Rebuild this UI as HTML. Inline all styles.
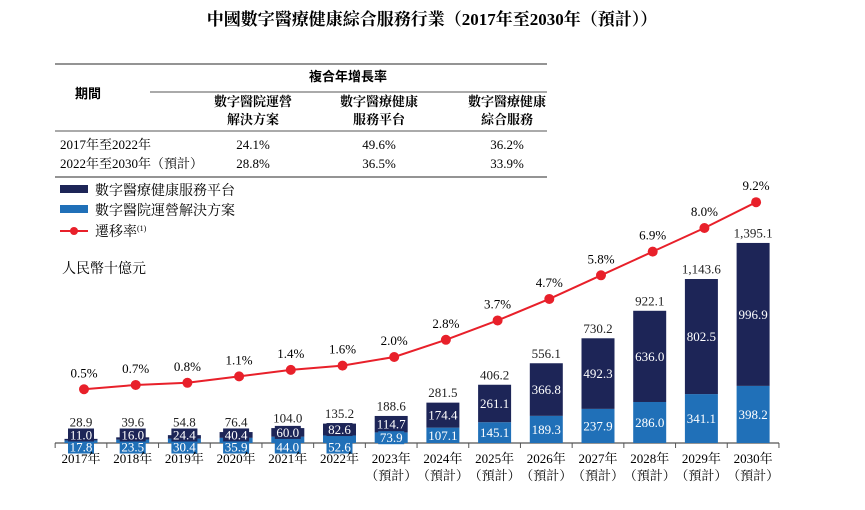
<!DOCTYPE html>
<html><head><meta charset="utf-8">
<style>
body{margin:0;background:#fff;width:865px;height:505px;overflow:hidden;font-family:"Liberation Serif","Noto Serif CJK SC",serif;color:#222}
svg text{font-family:"Liberation Serif","Noto Serif CJK SC",serif}
</style></head><body>
<svg width="865" height="505" viewBox="0 0 865 505">
<text x="432" y="25" text-anchor="middle" font-size="17" font-weight="bold">中國數字醫療健康綜合服務行業（2017年至2030年（預計））</text>
<g font-size="13">
<line x1="55" y1="64" x2="547" y2="64" stroke="#555" stroke-width="1.2"/>
<line x1="150" y1="92" x2="547" y2="92" stroke="#555" stroke-width="1"/>
<line x1="55" y1="131" x2="547" y2="131" stroke="#555" stroke-width="1"/>
<line x1="55" y1="177" x2="547" y2="177" stroke="#555" stroke-width="1.2"/>
<text x="88" y="98" text-anchor="middle" font-weight="bold" style="font-family:'Noto Sans CJK SC',sans-serif">期間</text>
<text x="348" y="81" text-anchor="middle" font-weight="bold" style="font-family:'Noto Sans CJK SC',sans-serif">複合年增長率</text>
<g font-weight="bold" style="font-family:'Noto Sans CJK SC',sans-serif" text-anchor="middle">
<text x="253" y="106">數字醫院運營</text><text x="253" y="124">解決方案</text>
<text x="379" y="106">數字醫療健康</text><text x="379" y="124">服務平台</text>
<text x="507" y="106">數字醫療健康</text><text x="507" y="124">綜合服務</text>
</g>
<text x="60" y="149" font-size="13">2017年至2022年</text>
<text x="60" y="168" font-size="13">2022年至2030年（預計）</text>
<g text-anchor="middle" font-size="13">
<text x="253" y="149">24.1%</text><text x="379" y="149">49.6%</text><text x="507" y="149">36.2%</text>
<text x="253" y="168">28.8%</text><text x="379" y="168">36.5%</text><text x="507" y="168">33.9%</text>
</g></g>
<g font-size="14">
<rect x="60" y="185" width="28" height="8" fill="#1d2557"/>
<text x="95" y="195">數字醫療健康服務平台</text>
<rect x="60" y="205" width="28" height="8" fill="#2070b8"/>
<text x="95" y="215">數字醫院運營解決方案</text>
<line x1="60" y1="231" x2="88" y2="231" stroke="#e8202a" stroke-width="2"/><circle cx="74" cy="231" r="4" fill="#e8202a"/>
<text x="95" y="236">遷移率<tspan font-size="8" dy="-5">(1)</tspan></text>
</g>
<text x="62" y="273" font-size="14">人民幣十億元</text>
<g id="plot"></g>
</svg>
<script>
const years=["2017年","2018年","2019年","2020年","2021年","2022年","2023年","2024年","2025年","2026年","2027年","2028年","2029年","2030年"];
const forecast=[0,0,0,0,0,0,1,1,1,1,1,1,1,1];
const platform=[11.0,16.0,24.4,40.4,60.0,82.6,114.7,174.4,261.1,366.8,492.3,636.0,802.5,996.9];
const solutions=[17.8,23.5,30.4,35.9,44.0,52.6,73.9,107.1,145.1,189.3,237.9,286.0,341.1,398.2];
const totals=["28.9","39.6","54.8","76.4","104.0","135.2","188.6","281.5","406.2","556.1","730.2","922.1","1,143.6","1,395.1"];
const rates=[0.5,0.7,0.8,1.1,1.4,1.6,2.0,2.8,3.7,4.7,5.8,6.9,8.0,9.2];
const NS="http://www.w3.org/2000/svg";
const g=document.getElementById('plot');
const base=443, x0=81, step=51.7, bw=33;
const xPos=i=>x0+i*step;
const yVal=v=>base-v*0.1434;
const yRate=r=>400-r*21.5;
function mk(t,a,p){const e=document.createElementNS(NS,t);for(const k in a)e.setAttribute(k,a[k]);(p||g).appendChild(e);return e;}
function lbl(x,y,txt,fill,bg){
 if(bg){const r=mk('rect',{x:x-13,y:y-6.5,width:26,height:13,fill:bg});}
 const t=mk('text',{x:x,y:y+4.5,'text-anchor':'middle','font-size':13,fill:fill});t.textContent=txt;
 }
const ax=mk('line',{x1:55,y1:base,x2:779,y2:base,stroke:'#555','stroke-width':1.2});

for(let i=0;i<=years.length;i++){const xx=xPos(i)-step/2;const tk=mk('line',{x1:xx,y1:base,x2:xx,y2:base+5,stroke:'#555'});
 }
years.forEach((yr,i)=>{
 const x=xPos(i), ys=yVal(solutions[i]), yt=yVal(solutions[i]+platform[i]);
 const r1=mk('rect',{x:x-bw/2,y:ys,width:bw,height:base-ys,fill:'#2070b8'});
 
 const r2=mk('rect',{x:x-bw/2,y:yt,width:bw,height:ys-yt,fill:'#1d2557'});
 
 const hs=base-ys, hp=ys-yt;
 let ly=(ys+base)/2; if(hs<10) ly=base+4;
 lbl(x,ly,solutions[i].toFixed(1),'#fff',hs<14?'#2070b8':null);
 let dy=(yt+ys)/2; if(hp<14) dy=Math.min(dy,ly-12);
 lbl(x,dy,platform[i].toFixed(1),'#fff',hp<14?'#1d2557':null);
 const ty=Math.min(yt-10,dy-13);
 lbl(x,ty,totals[i],'#222',null);
 const t1=mk('text',{x:x,y:base+20,'text-anchor':'middle','font-size':13});t1.textContent=yr;
 
 if(forecast[i]){const t2=mk('text',{x:x,y:base+37,'text-anchor':'middle','font-size':13});t2.textContent='（預計）';
 }
});
const pts=rates.map((r,i)=>(xPos(i)+3)+','+yRate(r)).join(' ');
const pl=mk('polyline',{points:pts,fill:'none',stroke:'#e8202a','stroke-width':2});

rates.forEach((r,i)=>{
 const c=mk('circle',{cx:xPos(i)+3,cy:yRate(r),r:5,fill:'#e8202a'});
 
 const t=mk('text',{x:xPos(i)+3,y:yRate(r)-12,'text-anchor':'middle','font-size':13});t.textContent=r.toFixed(1)+'%';
 
});
</script>
</body></html>
